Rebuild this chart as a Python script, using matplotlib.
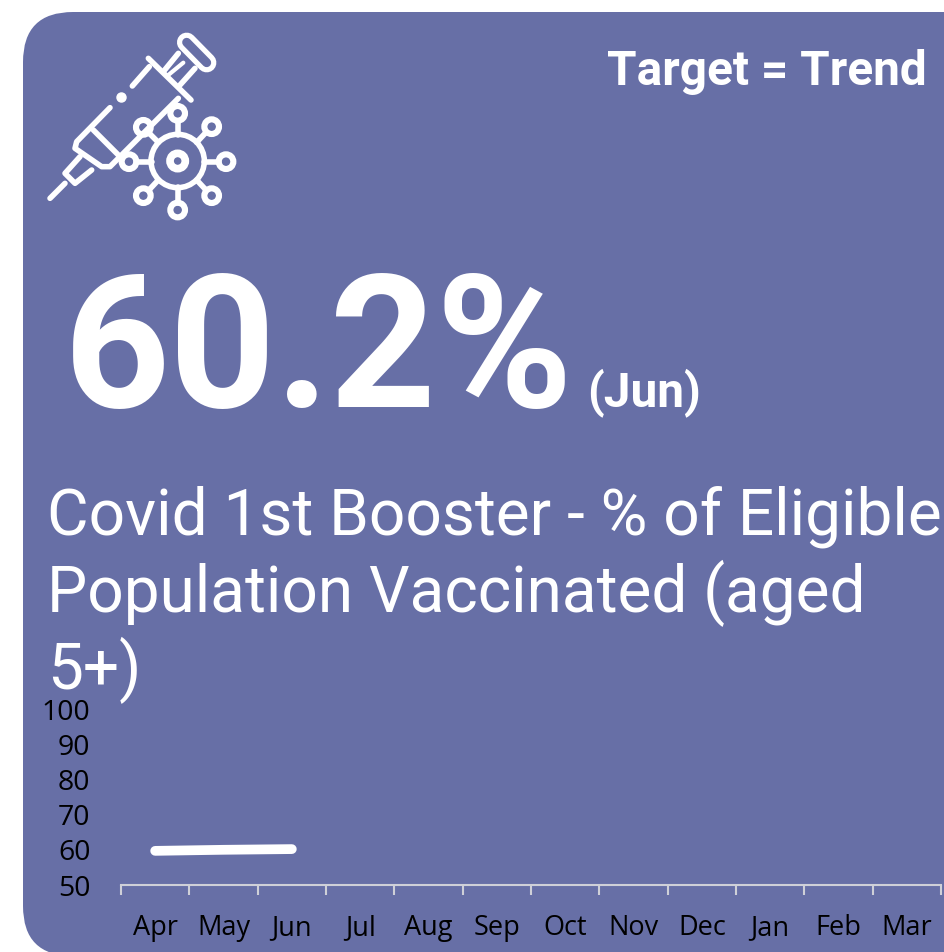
import matplotlib
matplotlib.use("Agg")
import matplotlib.pyplot as plt
from matplotlib.patches import FancyBboxPatch, Circle

W = 944
H = 952
CARD = "#676fa6"

meses = ["Apr", "May", "Jun", "Jul", "Aug", "Sep", "Oct", "Nov", "Dec", "Jan", "Feb", "Mar"]
valores = [59.7, 60.0, 60.2]
y_ticks = [50, 60, 70, 80, 90, 100]

fig = plt.figure(figsize=(W / 100, H / 100), dpi=100, facecolor="white")

# fondo en pixeles, y hacia abajo
bg = fig.add_axes([0, 0, 1, 1])
bg.set_xlim(0, W)
bg.set_ylim(H, 0)
bg.axis("off")
bg.add_patch(FancyBboxPatch((23, 12), 1100, 944, boxstyle="round,pad=0,rounding_size=50",
                            fc=CARD, ec="none"))

def z(x, y):
    return 30 + x / 3, 10 + y / 3

def trazo(puntos, lw=4, color="white"):
    xs = [z(*p)[0] for p in puntos]
    ys = [z(*p)[1] for p in puntos]
    bg.plot(xs, ys, color=color, lw=lw, solid_capstyle="round", solid_joinstyle="round")

def aro(x, y, r, lw=4):
    cx, cy = z(x, y)
    bg.add_patch(Circle((cx, cy), r / 3, fc="none", ec="white", lw=lw))

# jeringa
trazo([(470, 97), (530, 158)], lw=14)
trazo([(470, 97), (530, 158)], lw=6.5, color=CARD)
trazo([(445, 130), (400, 185)])
trazo([(495, 175), (450, 225)])
trazo([(415, 195), (460, 158)], lw=3)
trazo([(355, 145), (483, 270)])
trazo([(358, 170), (307, 228)])
trazo([(240, 293), (140, 395), (135, 415), (215, 470), (240, 470), (445, 265)])
trazo([(190, 360), (270, 440)])
trazo([(150, 440), (105, 490), (135, 520), (185, 480)])
trazo([(105, 520), (60, 565)])
px, py = z(273, 260)
bg.plot([px], [py], "o", color="white", ms=6.5)

# virus
aro(443, 453, 80)
aro(443, 453, 23, lw=5.5)
satelites = [(443, 600), (588, 455), (443, 310), (340, 352), (545, 350), (340, 557), (545, 557), (297, 455)]
for sx, sy in satelites:
    aro(sx, sy, 22, lw=4.4)
trazo([(443, 578), (443, 532)])
trazo([(566, 455), (522, 455)])
trazo([(443, 332), (443, 375)])
trazo([(356, 368), (385, 397)])
trazo([(529, 366), (500, 397)])
trazo([(356, 541), (385, 510)])
trazo([(529, 541), (500, 510)])
trazo([(319, 455), (365, 455)])

# textos
fuente = "Roboto"
bg.text(927, 85, "Target = Trend", family=fuente, weight="bold", color="white", fontsize=34.4,
        ha="right", va="baseline")
bg.text(64, 407, "60.2%", family=fuente, weight="bold", color="white", fontsize=133.5,
        ha="left", va="baseline")
bg.text(587, 406, "(Jun)", family=fuente, weight="bold", color="white", fontsize=34.4,
        ha="left", va="baseline")
for i, linea in enumerate(["Covid 1st Booster - % of Eligible", "Population Vaccinated (aged", "5+)"]):
    bg.text(47, 535 + i * 77, linea, family=fuente, color="white", fontsize=46,
            ha="left", va="baseline")

# grafica
ax = fig.add_axes([121 / W, 1 - 885 / H, (941 - 121) / W, (885 - 709) / H])
ax.patch.set_alpha(0)
ax.plot(range(len(valores)), valores, color="white", lw=7, solid_capstyle="round")
ax.set_xlim(-0.5, 11.5)
ax.set_ylim(50, 100)
ax.set_xticks(range(12))
ax.set_xticklabels(meses, family="Open Sans", fontsize=19.5, color="black")
ax.set_xticks([i - 0.5 for i in range(13)], minor=True)
ax.tick_params(axis="x", which="major", length=0, pad=21)
ax.tick_params(axis="x", which="minor", length=7, width=1.5, color="#cfd0d8")
ax.set_yticks(y_ticks)
ax.set_yticklabels([str(v) for v in y_ticks], family="Open Sans", fontsize=20.5, color="black")
ax.tick_params(axis="y", length=0, pad=22)
for lado in ["top", "left", "right"]:
    ax.spines[lado].set_visible(False)
ax.spines["bottom"].set_color("#cfd0d8")
ax.spines["bottom"].set_linewidth(1.5)

fig.savefig("out.png", dpi=100, facecolor="white")
